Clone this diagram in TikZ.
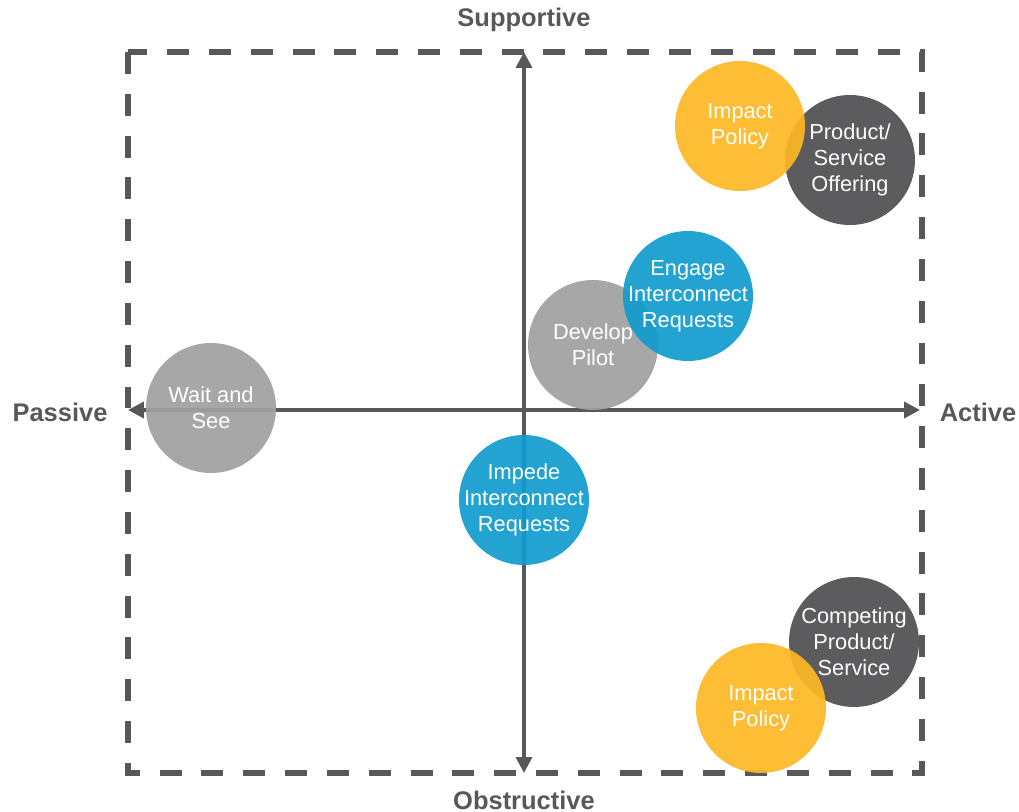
\documentclass[tikz,border=0pt]{standalone}
\usepackage{fontspec}
\setmainfont{Liberation Sans}
\usetikzlibrary{arrows.meta}
\definecolor{axisgray}{RGB}{88,88,90}
\definecolor{bubbleyellow}{RGB}{253,184,36}
\definecolor{bubbledark}{RGB}{78,78,80}
\definecolor{bubblelight}{RGB}{160,160,161}
\definecolor{bubbleblue}{RGB}{16,155,206}
\tikzset{
  quad-frame/.style={
    draw=axisgray,
    line width=2.9pt,
    dash pattern=on 12.5pt off 11.3pt
  },
  axis-line/.style={
    draw=axisgray,
    line width=2.1pt,
    {Triangle[length=9pt,width=9pt]}-{Triangle[length=9pt,width=9pt]}
  },
  axis-label/.style={text=axisgray, font=\bfseries\fontsize{14.5}{17}\selectfont},
  bubble/.style={
    circle,
    minimum size=2.6cm,
    inner sep=-10pt,
    fill opacity=0.92,
    text opacity=1,
    text=white,
    align=center,
    font=\fontsize{12.4}{14.8}\selectfont
  },
  bubble-yellow/.style={bubble, fill=bubbleyellow},
  bubble-dark/.style={bubble, fill=bubbledark},
  bubble-light/.style={bubble, fill=bubblelight},
  bubble-blue/.style={bubble, fill=bubbleblue}
}

\begin{document}
\begin{tikzpicture}[x=0.02cm, y=-0.02cm]
  \useasboundingbox (0,0) rectangle (1019,812);
  % --- dashed quadrant frame ---
  \draw[quad-frame] (128,52) rectangle (922,773);

  % --- axis end points ---
  \coordinate (ax-top)    at (524,52);
  \coordinate (ax-bottom) at (524,773);
  \coordinate (ax-left)   at (128,410);
  \coordinate (ax-right)  at (920,410);
  \draw[axis-line] (ax-bottom) -- (ax-top);
  \draw[axis-line] (ax-left) -- (ax-right);

  % --- axis labels ---
  \node[axis-label] (lbl-supportive)  at (524,20)  {Supportive};
  \node[axis-label] (lbl-obstructive) at (524,800) {Obstructive};
  \node[axis-label] (lbl-passive)     at (60,412)  {Passive};
  \node[axis-label] (lbl-active)      at (978,412) {Active};

  % --- bubbles, back to front ---
  \node[bubble-dark]   (offering)   at (850,160) {Product/\\Service\\Offering};
  \node[bubble-yellow] (policy-top) at (740,126) {Impact\\Policy};
  \node[bubble-light]  (pilot)      at (593,345) {Develop\\Pilot};
  \node[bubble-blue]   (engage)     at (688,296) {Engage\\Interconnect\\Requests};
  \node[bubble-light]  (wait)       at (211,408) {Wait and\\See};
  \node[bubble-blue]   (impede)     at (524,500) {Impede\\Interconnect\\Requests};
  \node[bubble-dark]   (competing)  at (854,642) {Competing\\Product/\\Service};
  \node[bubble-yellow] (policy-bot) at (761,708) {Impact\\Policy};
\end{tikzpicture}
\end{document}
